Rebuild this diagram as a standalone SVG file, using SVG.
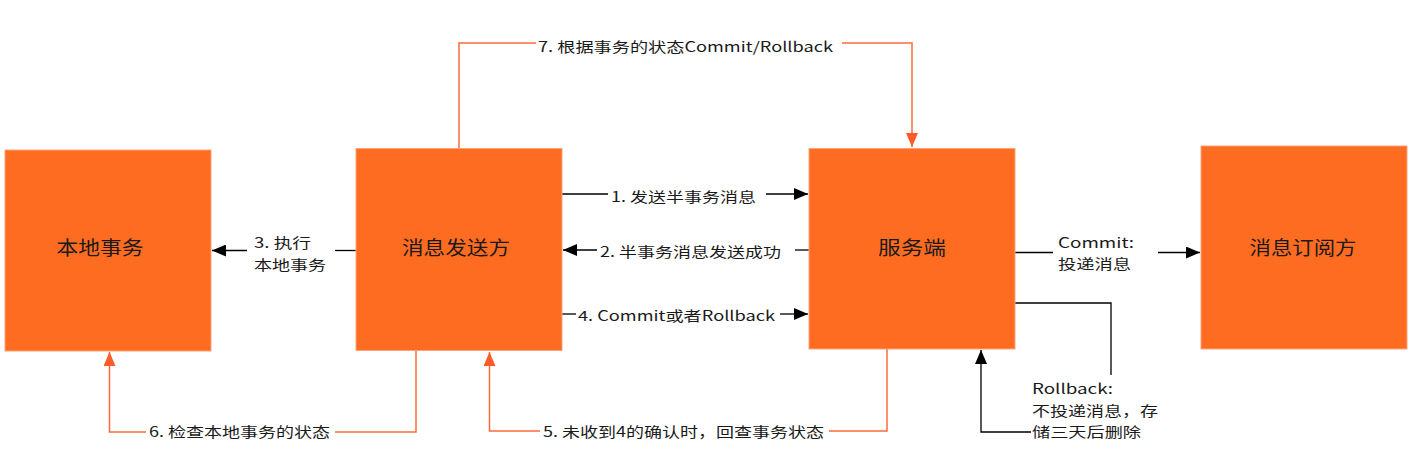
<svg xmlns="http://www.w3.org/2000/svg" width="1416" height="462" viewBox="0 0 1416 462">
<defs>
<style>
.box{fill:#fe6c22;stroke:#ffa27a;stroke-width:1}
.nl{font-family:"Noto Sans CJK SC","Liberation Sans",sans-serif;font-size:19px;fill:#1a1a1a;text-anchor:middle}
.lb{font-family:"Noto Sans CJK SC","Liberation Sans",sans-serif;font-size:14px;fill:#1a1a1a}
.k{fill:none;stroke:#000;stroke-width:1.3}
.o{fill:none;stroke:#ff6a3c;stroke-width:1.5}
</style>
<marker id="ak" markerWidth="14" markerHeight="12" refX="14" refY="6" orient="auto" markerUnits="userSpaceOnUse"><path d="M0,0 L14,6 L0,12 Z" fill="#000"/></marker>
<marker id="ao" markerWidth="14" markerHeight="12" refX="14" refY="6" orient="auto" markerUnits="userSpaceOnUse"><path d="M0,0 L14,6 L0,12 Z" fill="#ff5a2a"/></marker>
</defs>
<rect width="1416" height="462" fill="#fff"/>
<g id="connectors">
<path class="o" d="M459,148 V43 H536"/>
<path class="o" d="M842,43 H912 V147" marker-end="url(#ao)"/>
<path class="k" d="M562,194 H608"/>
<path class="k" d="M766,194 H808" marker-end="url(#ak)"/>
<path class="k" d="M809,250 H795"/>
<path class="k" d="M597,250 H563" marker-end="url(#ak)"/>
<path class="k" d="M562,314 H576"/>
<path class="k" d="M780,314 H808" marker-end="url(#ak)"/>
<path class="k" d="M356,250.5 H335"/>
<path class="k" d="M247,250.5 H212" marker-end="url(#ak)"/>
<path class="o" d="M416,351 V432 H335"/>
<path class="o" d="M146,432 H109.5 V352" marker-end="url(#ao)"/>
<path class="o" d="M887,349 V431 H829"/>
<path class="o" d="M540,431 H489.5 V352" marker-end="url(#ao)"/>
<path class="k" d="M1015,252.5 H1053"/>
<path class="k" d="M1158,252.5 H1200" marker-end="url(#ak)"/>
<path class="k" d="M1015,303 H1111 V375"/>
<path class="k" d="M1031,432 H981 V350" marker-end="url(#ak)"/>
<text class="lb" x="538" y="52" textLength="295" lengthAdjust="spacingAndGlyphs">7. 根据事务的状态Commit/Rollback</text>
<text class="lb" x="611" y="202" textLength="145" lengthAdjust="spacingAndGlyphs">1. 发送半事务消息</text>
<text class="lb" x="600" y="257" textLength="181" lengthAdjust="spacingAndGlyphs">2. 半事务消息发送成功</text>
<text class="lb" x="578" y="321" textLength="197" lengthAdjust="spacingAndGlyphs">4. Commit或者Rollback</text>
<text class="lb" x="254" y="248" textLength="57" lengthAdjust="spacingAndGlyphs">3. 执行</text>
<text class="lb" x="254" y="270" textLength="72" lengthAdjust="spacingAndGlyphs">本地事务</text>
<text class="lb" x="149" y="437" textLength="181" lengthAdjust="spacingAndGlyphs">6. 检查本地事务的状态</text>
<text class="lb" x="543" y="437" textLength="281" lengthAdjust="spacingAndGlyphs">5. 未收到4的确认时，回查事务状态</text>
<text class="lb" x="1058" y="248" textLength="76" lengthAdjust="spacingAndGlyphs">Commit:</text>
<text class="lb" x="1058" y="269" textLength="73" lengthAdjust="spacingAndGlyphs">投递消息</text>
<text class="lb" x="1032" y="394" textLength="81" lengthAdjust="spacingAndGlyphs">Rollback:</text>
<text class="lb" x="1032" y="415.5" textLength="126" lengthAdjust="spacingAndGlyphs">不投递消息，存</text>
<text class="lb" x="1032" y="437" textLength="109" lengthAdjust="spacingAndGlyphs">储三天后删除</text>
</g>
<g id="node-local">
<rect class="box" x="5" y="150" width="206" height="201"/>
<text class="nl" x="100" y="255" textLength="87" lengthAdjust="spacingAndGlyphs">本地事务</text>
</g>
<g id="node-producer">
<rect class="box" x="356" y="148.5" width="206" height="202"/>
<text class="nl" x="456" y="255" textLength="108" lengthAdjust="spacingAndGlyphs">消息发送方</text>
</g>
<g id="node-server">
<rect class="box" x="809" y="148.5" width="206" height="200.5"/>
<text class="nl" x="912" y="255" textLength="68" lengthAdjust="spacingAndGlyphs">服务端</text>
</g>
<g id="node-consumer">
<rect class="box" x="1201" y="146" width="206" height="203"/>
<text class="nl" x="1303" y="255" textLength="107" lengthAdjust="spacingAndGlyphs">消息订阅方</text>
</g>
</svg>
